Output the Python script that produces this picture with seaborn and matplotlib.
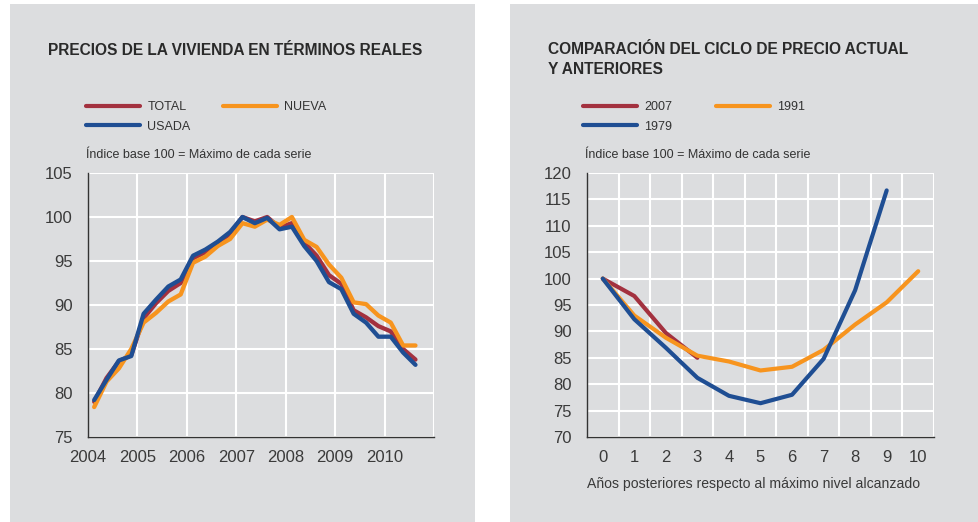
import numpy as np
import pandas as pd
import matplotlib.pyplot as plt
from matplotlib.patches import Rectangle
import seaborn as sns

# ── data ────────────────────────────────────────────────────────────
# left: quarterly real house prices 2004Q1 .. 2010Q3 (index, max = 100)
quarters = [f"{y}Q{q}" for y in range(2004, 2011) for q in range(1, 5)][:27]
total = [79.0, 81.7, 83.6, 84.3, 88.5, 90.2, 91.6, 92.5, 95.3, 96.0, 97.0, 98.1,
         100.0, 99.5, 100.0, 98.8, 99.3, 97.1, 95.6, 93.4, 92.4, 89.4, 88.6,
         87.6, 87.0, 85.0, 83.8]
nueva = [78.4, 81.3, 82.8, 85.0, 88.0, 89.1, 90.4, 91.2, 94.8, 95.5, 96.7, 97.5,
         99.3, 98.9, 99.7, 99.1, 100.0, 97.4, 96.6, 94.6, 93.1, 90.3, 90.1,
         88.8, 88.0, 85.4, 85.4]
usada = [79.2, 81.5, 83.7, 84.2, 89.0, 90.6, 92.1, 92.9, 95.6, 96.3, 97.2, 98.3,
         100.0, 99.3, 99.9, 98.6, 98.9, 96.7, 95.0, 92.6, 91.8, 89.0, 88.0,
         86.4, 86.4, 84.6, 83.2]

# right: years after peak vs index
years_after = list(range(11))
c2007 = [100.0, 96.7, 89.7, 85.0]
c1991 = [100.0, 93.0, 88.8, 85.4, 84.3, 82.6, 83.3, 86.5, 91.3, 95.5, 101.4]
c1979 = [100.0, 92.3, 86.9, 81.2, 77.8, 76.4, 78.0, 84.8, 97.8, 116.7]

left_ticks = [2004, 2005, 2006, 2007, 2008, 2009, 2010]

RED = "#a3313f"
ORANGE = "#f7941e"
BLUE = "#1f4e93"
PANEL = "#dcdddf"
TXT = "#2a2a2a"

# ── tidy frames ─────────────────────────────────────────────────────
qx = [int(q[:4]) + (int(q[-1]) - 0.5) / 4 for q in quarters]
df_left = pd.concat([
    pd.DataFrame({"t": qx, "v": total, "serie": "TOTAL"}),
    pd.DataFrame({"t": qx, "v": nueva, "serie": "NUEVA"}),
    pd.DataFrame({"t": qx, "v": usada, "serie": "USADA"}),
])
df_right = pd.concat([
    pd.DataFrame({"t": years_after[:len(c2007)], "v": c2007, "serie": "2007"}),
    pd.DataFrame({"t": years_after[:len(c1991)], "v": c1991, "serie": "1991"}),
    pd.DataFrame({"t": years_after[:len(c1979)], "v": c1979, "serie": "1979"}),
])

sns.set_style("whitegrid", {"axes.facecolor": PANEL, "grid.color": "white",
                            "axes.edgecolor": "#333333"})
plt.rcParams["font.family"] = ["Liberation Sans", "DejaVu Sans"]

W, H = 979, 522
fig = plt.figure(figsize=(W / 100, H / 100), dpi=100)
fig.patch.set_facecolor("white")


def fx(px):
    return px / W


def fy(py):
    return 1 - py / H


# gray panels
fig.patches.append(Rectangle((fx(10), 0), fx(465), fy(4), transform=fig.transFigure,
                             facecolor=PANEL, edgecolor="none", zorder=-10))
fig.patches.append(Rectangle((fx(510), 0), fx(469), fy(4), transform=fig.transFigure,
                             facecolor=PANEL, edgecolor="none", zorder=-10))

ax1 = fig.add_axes([fx(88), fy(437), fx(346), (437 - 173) / H])
ax2 = fig.add_axes([fx(587), fy(437), fx(347), (437 - 173) / H])

sns.lineplot(data=df_left, x="t", y="v", hue="serie",
             palette={"TOTAL": RED, "NUEVA": ORANGE, "USADA": BLUE},
             linewidth=3.1, ax=ax1)
sns.lineplot(data=df_right, x="t", y="v", hue="serie",
             palette={"2007": RED, "1991": ORANGE, "1979": BLUE},
             linewidth=3.0, ax=ax2)

for ax in (ax1, ax2):
    ax.set_xlabel("")
    ax.set_ylabel("")
    for s in ("top", "right"):
        ax.spines[s].set_visible(False)
    for s in ("left", "bottom"):
        ax.spines[s].set_linewidth(1.0)
        ax.spines[s].set_color("#333333")
        ax.spines[s].set_zorder(5)
    ax.grid(linewidth=1.5, color="white")
    ax.tick_params(axis="both", length=0, labelsize=12, labelcolor="#3a3a3a")
    ax.tick_params(axis="y", pad=11)
    ax.tick_params(axis="x", pad=9)

# left axis
ax1.set_xlim(2004, 2011)
ax1.set_ylim(75, 105)
ax1.set_xticks(left_ticks + [2011])
ax1.set_xticklabels([str(t) for t in left_ticks] + [""])
ax1.set_yticks(range(75, 106, 5))

# right axis
ax2.set_xlim(-0.5, 10.5)
ax2.set_ylim(70, 120)
ax2.set_xticks(years_after)
ax2.set_xticks(np.arange(-0.5, 11, 1), minor=True)
ax2.grid(axis="x", which="major", visible=False)
ax2.grid(axis="x", which="minor", visible=True, linewidth=1.5, color="white")
ax2.tick_params(axis="x", which="minor", length=0)
ax2.set_yticks(range(70, 121, 5))
ax2.set_xlabel("Años posteriores respecto al máximo nivel alcanzado",
               fontsize=10.1, color="#3a3a3a", loc="left", labelpad=9)

# legends
for ax, order, x0, colsp in ((ax1, ["TOTAL", "USADA", "NUEVA"], 86, 2.6),
                             (ax2, ["2007", "1979", "1991"], 583, 3.5)):
    handles, labels = ax.get_legend_handles_labels()
    hmap = dict(zip(labels, handles))
    leg = ax.legend([hmap[k] for k in order], order, ncol=2, frameon=False,
                    loc="upper left", bbox_to_anchor=(fx(x0), fy(101)),
                    bbox_transform=fig.transFigure, fontsize=9,
                    handlelength=4.3, handletextpad=0.6, columnspacing=colsp,
                    labelspacing=0.6, borderpad=0, borderaxespad=0)
    for ln in leg.get_lines():
        ln.set_linewidth(3.0)
    for t in leg.get_texts():
        t.set_color("#333333")

# titles and notes
fig.text(fx(48), fy(55), "PRECIOS DE LA VIVIENDA EN TÉRMINOS REALES",
         fontsize=11.2, fontweight="bold", color=TXT, va="baseline")
fig.text(fx(548), fy(54), "COMPARACIÓN DEL CICLO DE PRECIO ACTUAL",
         fontsize=11.2, fontweight="bold", color=TXT, va="baseline")
fig.text(fx(548), fy(74), "Y ANTERIORES",
         fontsize=11.2, fontweight="bold", color=TXT, va="baseline")
fig.text(fx(86), fy(158), "Índice base 100 = Máximo de cada serie",
         fontsize=9, color="#333333", va="baseline")
fig.text(fx(585), fy(158), "Índice base 100 = Máximo de cada serie",
         fontsize=9, color="#333333", va="baseline")

fig.savefig("out.png", dpi=100, facecolor="white")
